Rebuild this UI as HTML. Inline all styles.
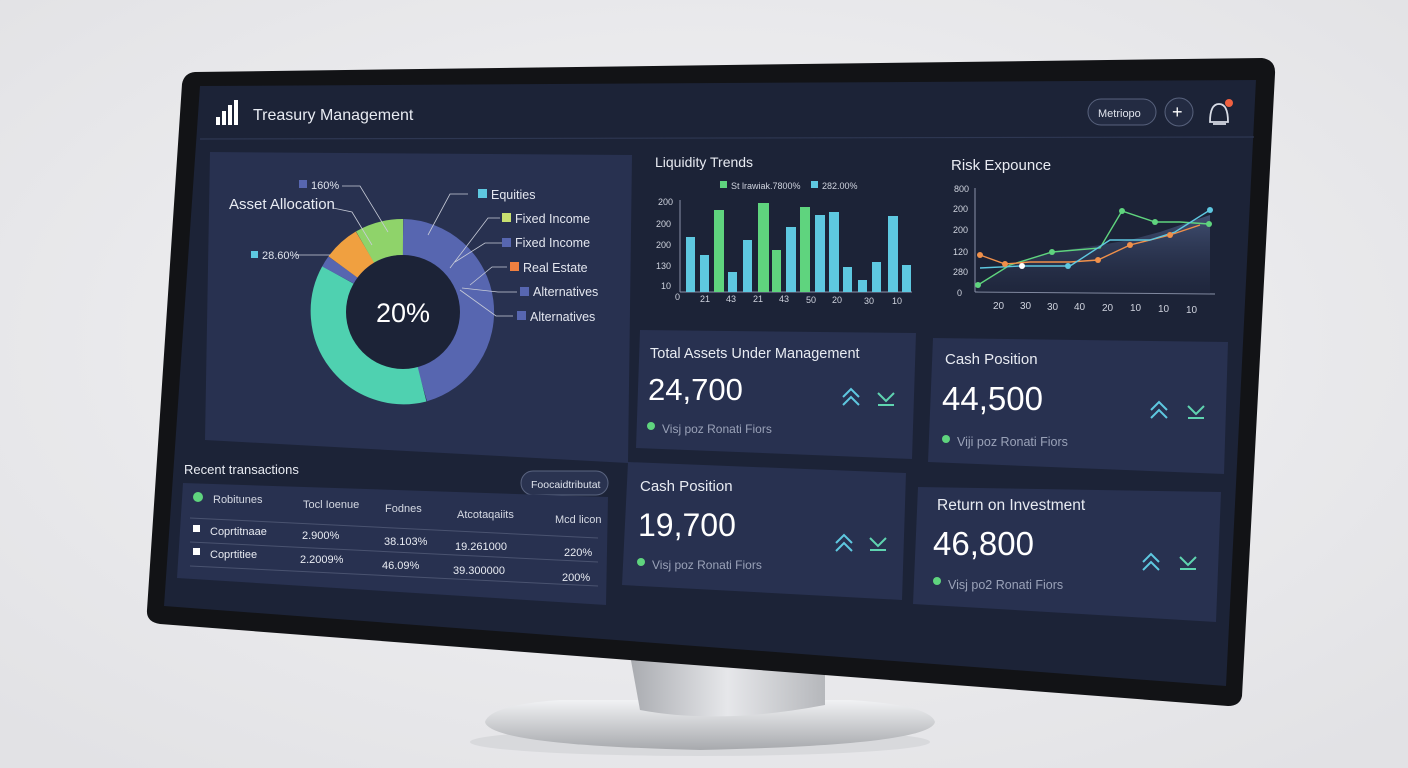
<!DOCTYPE html>
<html><head><meta charset="utf-8"><style>
html,body{margin:0;padding:0;width:1408px;height:768px;overflow:hidden;background:#ececee}
svg{display:block}
text{font-family:"Liberation Sans",sans-serif}
</style></head><body>
<svg width="1408" height="768" viewBox="0 0 1408 768" xmlns="http://www.w3.org/2000/svg">
<defs>
<radialGradient id="bg" cx="50%" cy="45%" r="70%"><stop offset="0" stop-color="#f4f4f6"/><stop offset="1" stop-color="#e2e2e5"/></radialGradient>
<linearGradient id="neck" x1="0" x2="1"><stop offset="0" stop-color="#a9abb0"/><stop offset=".5" stop-color="#e6e7ea"/><stop offset="1" stop-color="#b5b7bb"/></linearGradient>
<linearGradient id="base" x1="0" y1="0" x2="0" y2="1"><stop offset="0" stop-color="#f1f2f4"/><stop offset="1" stop-color="#a7a9ad"/></linearGradient>
<linearGradient id="area" x1="0" y1="0" x2="0" y2="1"><stop offset="0" stop-color="#4a5a80" stop-opacity=".8"/><stop offset="1" stop-color="#2a3350" stop-opacity=".2"/></linearGradient>
</defs>
<rect width="1408" height="768" fill="url(#bg)"/>
<!-- stand -->
<ellipse cx="700" cy="742" rx="230" ry="14" fill="#cfd0d3" opacity=".6"/>
<path d="M485 722 Q490 705 560 700 L850 700 Q930 705 935 722 Q930 745 700 750 Q490 745 485 722Z" fill="url(#base)"/>
<path d="M630 655 L825 655 L825 705 Q720 725 640 710Z" fill="url(#neck)"/>
<!-- bezel -->
<path d="M195 72 L1262 58 Q1276 60 1275 74 L1242 696 Q1240 706 1228 706 L160 624 Q146 622 147 610 L182 84 Q184 73 195 72Z" fill="#121316"/>
<!-- screen -->
<path d="M200 86 L1256 80 L1226 686 L164 606Z" fill="#1c2337"/>
<line x1="200" y1="139" x2="1254" y2="137" stroke="#2e3752" stroke-width="1.2"/>
<!-- header -->
<g fill="#ffffff"><rect x="216" y="117" width="4" height="8"/><rect x="222" y="111" width="4" height="14"/><rect x="228" y="105" width="4" height="20"/><rect x="234" y="100" width="4" height="25"/></g>
<text x="253" y="120" font-size="16" fill="#e8ebf2">Treasury Management</text>
<rect x="1088" y="99" width="68" height="26" rx="13" fill="#232b42" stroke="#58627d"/>
<text x="1098" y="117" font-size="11" fill="#dfe3ec">Metriopo</text>
<circle cx="1179" cy="112" r="14" fill="#232b42" stroke="#58627d"/>
<text x="1172" y="118" font-size="18" fill="#fff">+</text>
<path d="M1210 122 Q1210 104 1219 104 Q1228 104 1228 122Z M1213 124 L1226 124" fill="none" stroke="#d8dce6" stroke-width="1.8"/>
<circle cx="1229" cy="103" r="4" fill="#f06040"/>
<!-- asset allocation panel -->
<path d="M210 152 L632 155 L628 463 L205 440Z" fill="#283150"/>
<text x="229" y="209" font-size="15" fill="#e8ebf2">Asset Allocation</text>
<g fill="none" stroke-width="36">
<path d="M403 237 A75 75 0 0 1 422 384" stroke="#5766b0"/>
<path d="M422 384 A75 75 0 0 1 338 275" stroke="#4fd1b0"/>
<path d="M338 275 A75 75 0 0 1 343 267" stroke="#5766b0"/>
<path d="M343 267 A75 75 0 0 1 365 247" stroke="#f0a040"/>
<path d="M365 247 A75 75 0 0 1 403 237" stroke="#8fd36a"/>
</g>
<circle cx="403" cy="312" r="57" fill="#1c2337"/>
<text x="403" y="322" font-size="27" fill="#fff" text-anchor="middle">20%</text>
<g stroke="#c8ccd8" stroke-width=".8" fill="none">
<polyline points="342,186 360,186 388,232"/><polyline points="333,208 352,212 372,245"/>
<polyline points="468,194 450,194 428,235"/><polyline points="500,218 488,218 450,268"/>
<polyline points="503,243 485,243 455,262"/><polyline points="507,267 492,267 470,285"/>
<polyline points="517,292 498,292 462,288"/><polyline points="513,316 496,316 460,290"/>
<polyline points="296,255 330,255"/>
</g>
<rect x="299" y="180" width="8" height="8" fill="#5766b0"/><text x="311" y="189" font-size="11" fill="#dfe3ec">160%</text>
<rect x="251" y="251" width="7" height="7" fill="#5ec8e0"/><text x="262" y="259" font-size="11" fill="#dfe3ec">28.60%</text>
<g font-size="12.5" fill="#e3e6ef">
<rect x="478" y="189" width="9" height="9" fill="#5ec8e0"/><text x="491" y="199">Equities</text>
<rect x="502" y="213" width="9" height="9" fill="#c8e070"/><text x="515" y="223">Fixed Income</text>
<rect x="502" y="238" width="9" height="9" fill="#5766b0"/><text x="515" y="247">Fixed Income</text>
<rect x="510" y="262" width="9" height="9" fill="#f08040"/><text x="523" y="272">Real Estate</text>
<rect x="520" y="287" width="9" height="9" fill="#5766b0"/><text x="533" y="296">Alternatives</text>
<rect x="517" y="311" width="9" height="9" fill="#5766b0"/><text x="530" y="321">Alternatives</text>
</g>
<!-- liquidity -->
<text x="655" y="167" font-size="14" fill="#e8ebf2">Liquidity Trends</text>
<rect x="720" y="181" width="7" height="7" fill="#5fd47e"/><text x="731" y="189" font-size="9" fill="#cfd3de">St lrawiak.7800%</text>
<rect x="811" y="181" width="7" height="7" fill="#5ec8e0"/><text x="822" y="189" font-size="9" fill="#cfd3de">282.00%</text>
<g font-size="9" fill="#cfd3de"><text x="658" y="205">200</text><text x="656" y="227">200</text><text x="656" y="248">200</text><text x="656" y="269">130</text><text x="661" y="289">10</text>
<text x="675" y="300">0</text><text x="700" y="302">21</text><text x="726" y="302">43</text><text x="753" y="302">21</text><text x="779" y="302">43</text><text x="806" y="303">50</text><text x="832" y="303">20</text><text x="864" y="304">30</text><text x="892" y="304">10</text></g>
<line x1="680" y1="200" x2="680" y2="292" stroke="#8a92a8"/>
<line x1="680" y1="292" x2="912" y2="292" stroke="#8a92a8"/>
<g>
<rect x="686" y="237" width="9" height="55" fill="#5ec8e0"/>
<rect x="700" y="255" width="9" height="37" fill="#5ec8e0"/>
<rect x="714" y="210" width="10" height="82" fill="#5fd47e"/>
<rect x="728" y="272" width="9" height="20" fill="#5ec8e0"/>
<rect x="743" y="240" width="9" height="52" fill="#5ec8e0"/>
<rect x="758" y="203" width="11" height="89" fill="#5fd47e"/>
<rect x="772" y="250" width="9" height="42" fill="#5fd47e"/>
<rect x="786" y="227" width="10" height="65" fill="#5ec8e0"/>
<rect x="800" y="207" width="10" height="85" fill="#5fd47e"/>
<rect x="815" y="215" width="10" height="77" fill="#5ec8e0"/>
<rect x="829" y="212" width="10" height="80" fill="#5ec8e0"/>
<rect x="843" y="267" width="9" height="25" fill="#5ec8e0"/>
<rect x="858" y="280" width="9" height="12" fill="#5ec8e0"/>
<rect x="872" y="262" width="9" height="30" fill="#5ec8e0"/>
<rect x="888" y="216" width="10" height="76" fill="#5ec8e0"/>
<rect x="902" y="265" width="9" height="27" fill="#5ec8e0"/>
</g>
<!-- risk -->
<text x="951" y="170" font-size="15" fill="#e8ebf2">Risk Expounce</text>
<g font-size="9" fill="#cfd3de"><text x="954" y="192">800</text><text x="953" y="212">200</text><text x="953" y="233">200</text><text x="953" y="255">120</text><text x="953" y="275">280</text><text x="957" y="296">0</text>
<text x="993" y="309" font-size="10">20</text><text x="1020" y="309" font-size="10">30</text><text x="1047" y="310" font-size="10">30</text><text x="1074" y="310" font-size="10">40</text><text x="1102" y="311" font-size="10">20</text><text x="1130" y="311" font-size="10">10</text><text x="1158" y="312" font-size="10">10</text><text x="1186" y="313" font-size="10">10</text></g>
<line x1="975" y1="188" x2="975" y2="292" stroke="#8a92a8"/>
<line x1="975" y1="292" x2="1215" y2="294" stroke="#8a92a8"/>
<path d="M978 285 L1010 265 L1052 252 L1100 245 L1130 240 L1160 232 L1210 215 L1210 294 L978 292Z" fill="url(#area)"/>
<g fill="none" stroke-width="1.4">
<polyline points="978,285 1010,265 1052,252 1100,248 1122,211 1155,222 1180,222 1209,224" stroke="#5fd47e"/>
<polyline points="980,255 1005,264 1030,262 1070,262 1098,260 1130,245 1170,235 1200,225" stroke="#f0904a"/>
<polyline points="980,268 1020,266 1070,266 1110,240 1150,240 1175,232 1210,210" stroke="#5ec8e0"/>
</g>
<g><circle cx="978" cy="285" r="3" fill="#5fd47e"/><circle cx="1052" cy="252" r="3" fill="#5fd47e"/><circle cx="1122" cy="211" r="3" fill="#5fd47e"/><circle cx="1155" cy="222" r="3" fill="#5fd47e"/><circle cx="1209" cy="224" r="3" fill="#5fd47e"/>
<circle cx="980" cy="255" r="3" fill="#f0904a"/><circle cx="1005" cy="264" r="3" fill="#f0904a"/><circle cx="1098" cy="260" r="3" fill="#f0904a"/><circle cx="1130" cy="245" r="3" fill="#f0904a"/><circle cx="1170" cy="235" r="3" fill="#f0904a"/>
<circle cx="1022" cy="266" r="3" fill="#fff"/><circle cx="1068" cy="266" r="3" fill="#5ec8e0"/><circle cx="1210" cy="210" r="3" fill="#5ec8e0"/></g>
<!-- cards -->
<path d="M640 330 L916 333 L912 459 L636 448Z" fill="#283150"/>
<text x="650" y="358" font-size="14.5" fill="#e8ebf2">Total Assets Under Management</text>
<text x="648" y="400" font-size="31" fill="#fff">24,700</text>
<circle cx="651" cy="426" r="4" fill="#5fd47e"/><text x="662" y="433" font-size="12" fill="#9aa2b8">Visj poz Ronati Fiors</text>
<path d="M843 397 L851 389 L859 397 M843 405 L851 397 L859 405" fill="none" stroke="#5ec8e0" stroke-width="2"/>
<path d="M878 393 L886 401 L894 393 M878 405 L894 405" fill="none" stroke="#5fd4b0" stroke-width="2"/>

<path d="M933 338 L1228 342 L1224 474 L928 462Z" fill="#283150"/>
<text x="945" y="364" font-size="15" fill="#e8ebf2">Cash Position</text>
<text x="942" y="410" font-size="33" fill="#fff">44,500</text>
<circle cx="946" cy="439" r="4" fill="#5fd47e"/><text x="957" y="446" font-size="12.5" fill="#9aa2b8">Viji poz Ronati Fiors</text>
<path d="M1151 410 L1159 402 L1167 410 M1151 418 L1159 410 L1167 418" fill="none" stroke="#5ec8e0" stroke-width="2"/>
<path d="M1188 406 L1196 414 L1204 406 M1188 418 L1204 418" fill="none" stroke="#5fd4b0" stroke-width="2"/>

<path d="M628 462 L906 473 L902 600 L622 585Z" fill="#283150"/>
<text x="640" y="491" font-size="15" fill="#e8ebf2">Cash Position</text>
<text x="638" y="536" font-size="32" fill="#fff">19,700</text>
<circle cx="641" cy="562" r="4" fill="#5fd47e"/><text x="652" y="569" font-size="12" fill="#9aa2b8">Visj poz Ronati Fiors</text>
<path d="M836 543 L844 535 L852 543 M836 551 L844 543 L852 551" fill="none" stroke="#5ec8e0" stroke-width="2"/>
<path d="M870 538 L878 546 L886 538 M870 550 L886 550" fill="none" stroke="#5fd4b0" stroke-width="2"/>

<path d="M918 487 L1221 492 L1216 622 L913 604Z" fill="#283150"/>
<text x="937" y="510" font-size="15.5" fill="#e8ebf2">Return on Investment</text>
<text x="933" y="555" font-size="33" fill="#fff">46,800</text>
<circle cx="937" cy="581" r="4" fill="#5fd47e"/><text x="948" y="589" font-size="12.5" fill="#9aa2b8">Visj po2 Ronati Fiors</text>
<path d="M1143 562 L1151 554 L1159 562 M1143 570 L1151 562 L1159 570" fill="none" stroke="#5ec8e0" stroke-width="2"/>
<path d="M1180 557 L1188 565 L1196 557 M1180 569 L1196 569" fill="none" stroke="#5fd4b0" stroke-width="2"/>
<!-- transactions -->
<text x="184" y="474" font-size="13" fill="#e8ebf2">Recent transactions</text>
<rect x="521" y="471" width="87" height="24" rx="12" fill="#2a3350" stroke="#5a6480"/>
<text x="531" y="488" font-size="10.5" fill="#dfe3ec">Foocaidtributat</text>
<path d="M183 483 L608 497 L606 605 L177 578Z" fill="#283150"/>
<circle cx="198" cy="497" r="5" fill="#5fd47e"/>
<g font-size="11" fill="#d5d9e3"><text x="213" y="503">Robitunes</text><text x="303" y="508">Tocl Ioenue</text><text x="385" y="512">Fodnes</text><text x="457" y="518">Atcotaqaiits</text><text x="555" y="523">Mcd licon</text></g>
<line x1="190" y1="518" x2="598" y2="538" stroke="#4a5370"/>
<g font-size="11" fill="#e8ebf2"><rect x="193" y="525" width="7" height="7" fill="#fff"/><text x="210" y="535">Coprtitnaae</text><text x="302" y="539">2.900%</text><text x="384" y="545">38.103%</text><text x="455" y="550">19.261000</text><text x="564" y="556">220%</text></g>
<line x1="190" y1="542" x2="598" y2="562" stroke="#4a5370"/>
<g font-size="11" fill="#e8ebf2"><rect x="193" y="548" width="7" height="7" fill="#fff"/><text x="210" y="558">Coprtitiee</text><text x="300" y="563">2.2009%</text><text x="382" y="569">46.09%</text><text x="453" y="574">39.300000</text><text x="562" y="581">200%</text></g>
<line x1="190" y1="566" x2="598" y2="586" stroke="#4a5370"/>
</svg>
</body></html>
